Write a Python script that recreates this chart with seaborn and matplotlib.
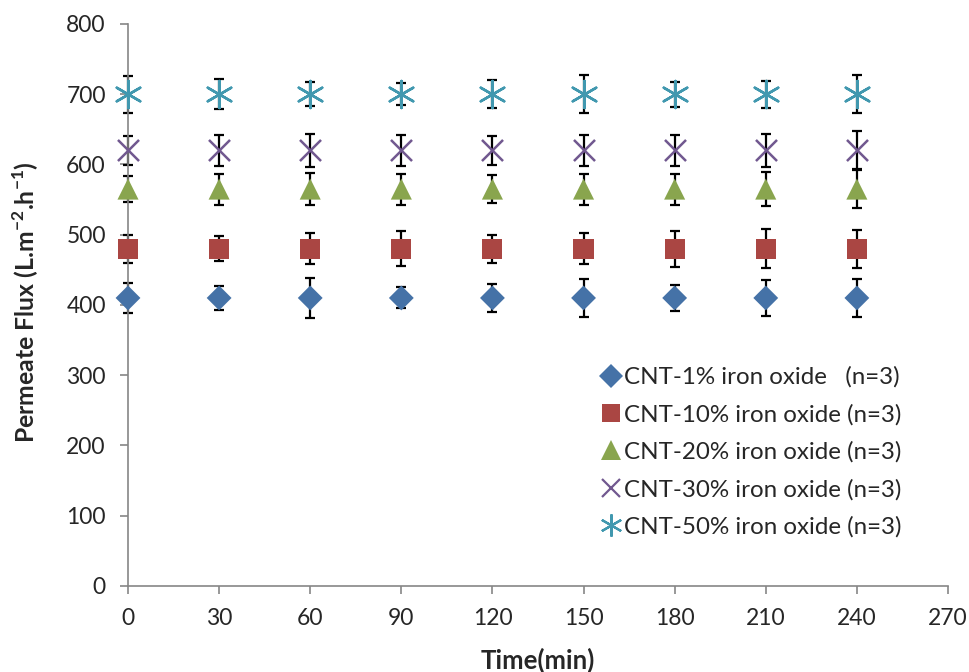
import matplotlib
matplotlib.use("Agg")
import matplotlib.pyplot as plt
import seaborn as sns
import pandas as pd
from matplotlib.lines import Line2D

time_min = [0, 30, 60, 90, 120, 150, 180, 210, 240]
series_names = ["CNT-1% iron oxide   (n=3)", "CNT-10% iron oxide (n=3)",
                "CNT-20% iron oxide (n=3)", "CNT-30% iron oxide (n=3)",
                "CNT-50% iron oxide (n=3)"]
flux_1 = [410, 410, 410, 410, 410, 410, 410, 410, 410]
flux_10 = [480, 480, 480, 480, 480, 480, 480, 480, 480]
flux_20 = [565, 565, 565, 565, 565, 565, 565, 565, 565]
flux_30 = [620, 620, 620, 620, 620, 620, 620, 620, 620]
flux_50 = [700, 700, 700, 700, 700, 700, 700, 700, 700]
err_1 = [21, 17, 29, 15, 20, 27, 18, 26, 27]
err_10 = [20, 18, 22, 25, 20, 22, 26, 28, 27]
err_20 = [19, 22, 23, 22, 20, 22, 22, 24, 27]
err_30 = [21, 22, 23, 22, 21, 22, 22, 24, 27]
err_50 = [26, 21, 17, 16, 20, 27, 18, 19, 27]

colors = ["#4572A7", "#AA4643", "#89A54E", "#71588F", "#4198AF"]
markers = ["D", "s", "^", "x", (6, 2, 0)]
sizes = [160, 210, 230, 230, 380]

fluxes = [flux_1, flux_10, flux_20, flux_30, flux_50]
errs = [err_1, err_10, err_20, err_30, err_50]

rows = []
for name, f, e in zip(series_names, fluxes, errs):
    for t, v, ee in zip(time_min, f, e):
        rows.append({"Time": t, "Flux": v, "Err": ee, "Series": name})
df = pd.DataFrame(rows)

sns.set_style("white")
plt.rcParams['font.family'] = ['Lato', 'DejaVu Sans']
plt.rcParams['mathtext.fontset'] = 'custom'
plt.rcParams['mathtext.rm'] = 'Lato'
plt.rcParams['mathtext.bf'] = 'Lato:bold'

fig = plt.figure(figsize=(9.69, 6.72), dpi=100)
ax = fig.add_axes([0.1321, 0.128, 0.8462, 0.8363])

for i, name in enumerate(series_names):
    sub = df[df["Series"] == name]
    eb = ax.errorbar(sub["Time"], sub["Flux"], yerr=sub["Err"], fmt="none",
                     ecolor="black", elinewidth=1.6, capsize=3.5, capthick=1.6, zorder=2)
    for art in list(eb.lines[1]) + list(eb.lines[2]):
        art.set_clip_on(False)
    sns.scatterplot(data=sub, x="Time", y="Flux", ax=ax, color=colors[i],
                    marker=markers[i], s=sizes[i], linewidth=(1.8 if i >= 3 else 0),
                    edgecolor=(colors[i] if i >= 3 else "none"), zorder=3, legend=False,
                    clip_on=False)

ax.set_xlim(0, 270)
ax.set_ylim(0, 800)
ax.set_xticks(range(0, 271, 30))
ax.set_yticks(range(0, 801, 100))
ax.tick_params(axis="both", direction="out", length=6, width=1.2, color="#868686",
               labelsize=16.5, left=True, bottom=True)
ax.tick_params(axis="x", pad=10)
ax.tick_params(axis="y", pad=10)
for s in ["top", "right"]:
    ax.spines[s].set_visible(False)
for s in ["left", "bottom"]:
    ax.spines[s].set_color("#868686")
    ax.spines[s].set_linewidth(1.2)
ax.set_xlabel("Time(min)", fontsize=18.5, fontweight="bold", va="center")
ax.xaxis.set_label_coords(0.5, -0.132)
ax.set_ylabel("Permeate Flux (L.m$^{\\mathbf{-2}}$.h$^{\\mathbf{-1}}$)", fontsize=17.8,
              fontweight="bold", va="center")
ax.yaxis.set_label_coords(-0.125, 0.505)
ax.grid(False)

handles = []
leg_ms = [12, 13, 14, 13, 16]
for i, name in enumerate(series_names):
    handles.append(Line2D([], [], linestyle="none", marker=markers[i], color=colors[i],
                          markersize=leg_ms[i], markeredgewidth=(1.6 if i >= 3 else 0),
                          markeredgecolor=colors[i]))
leg = ax.legend(handles, series_names, loc="upper left", bbox_to_anchor=(0.608, 0.469),
                bbox_transform=fig.transFigure, frameon=False, fontsize=17.4,
                handletextpad=0.05, handlelength=1.0, labelspacing=0.66, borderaxespad=0)

fig.savefig("out.png", dpi=100)
